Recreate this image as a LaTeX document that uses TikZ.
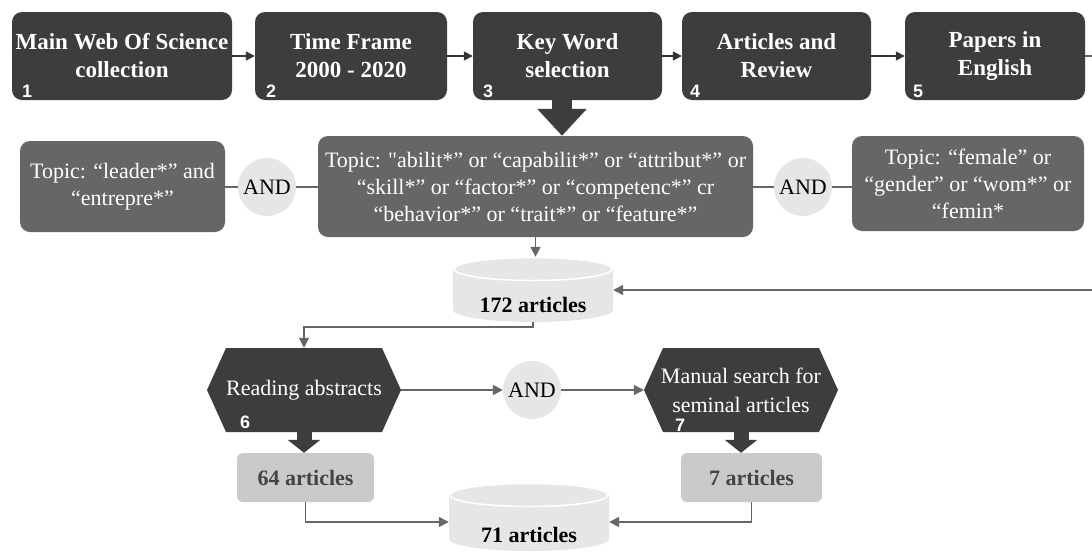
\documentclass[tikz,border=0pt]{standalone}
\usepackage{fontspec}
\setmainfont{Liberation Serif}
\newfontfamily\numfont{Liberation Sans}
\newfontfamily\plainqfont{Liberation Serif}
\usetikzlibrary{arrows.meta,calc}
\definecolor{darkbox}{HTML}{3D3D3D}
\definecolor{topicgray}{HTML}{666666}
\definecolor{lightfill}{HTML}{E6E6E6}
\definecolor{resfill}{HTML}{CACACA}
\definecolor{restext}{HTML}{444444}
\definecolor{linegray}{HTML}{666666}
\definecolor{arrowdark}{HTML}{333333}
\begin{document}
\begin{tikzpicture}[x=1pt,y=-1pt,
  every node/.style={font=\fontsize{22}{27}\selectfont},
  stepbox/.style={rectangle, rounded corners=10pt, fill=darkbox, text=white,
    font=\fontsize{23}{28}\selectfont\bfseries, align=center, inner sep=0pt,
    minimum height=88pt},
  numlabel/.style={text=white, font=\numfont\bfseries\fontsize{18}{18}\selectfont, anchor=base west, inner sep=0pt},
  topicbox/.style={rectangle, rounded corners=10pt, fill=topicgray, text=white, align=center, inner sep=0pt},
  andnode/.style={circle, fill=lightfill, minimum size=58pt, inner sep=0pt, text=black},
  resultbox/.style={rectangle, rounded corners=6pt, fill=resfill, text=restext,
    font=\fontsize{22}{27}\selectfont\bfseries, inner sep=0pt, minimum width=139pt, minimum height=49pt},
  hexstep/.style={rectangle, minimum width=194pt, minimum height=84pt, inner sep=0pt, text=white, align=center,
    path picture={\fill[darkbox] (path picture bounding box.west)
      -- ([xshift=19pt]path picture bounding box.north west)
      -- ([xshift=-19pt]path picture bounding box.north east)
      -- (path picture bounding box.east)
      -- ([xshift=-19pt]path picture bounding box.south east)
      -- ([xshift=19pt]path picture bounding box.south west) -- cycle;}},
  cylnode/.style={rectangle, inner sep=0pt, minimum width=160pt, minimum height=#1,
    path picture={
      \fill[lightfill] ([yshift=-12pt]path picture bounding box.north west)
        -- ([yshift=12pt]path picture bounding box.south west)
        arc[start angle=180, end angle=360, x radius=80pt, y radius=12pt]
        -- ([yshift=-12pt]path picture bounding box.north east)
        arc[start angle=0, end angle=180, x radius=80pt, y radius=12pt] -- cycle;
      \draw[white, line width=1.5pt, fill=lightfill] ([yshift=-12pt]path picture bounding box.north)
        ellipse[x radius=79pt, y radius=11.5pt];}},
  cyltext/.style={text=black, font=\fontsize{22}{27}\selectfont\bfseries, inner sep=0pt},
  topflow/.style={draw=arrowdark, line width=1.6pt, -{Triangle[length=9pt,width=9pt]}},
  flow/.style={draw=linegray, line width=1.6pt, -{Triangle[length=10pt,width=10pt]}},
  plainline/.style={draw=linegray, line width=1.6pt},
  bigblock/.style={draw=darkbox, line width=20pt, -{Triangle[length=27pt,width=48pt]}},
  smallblock/.style={draw=darkbox, line width=15pt, -{Triangle[length=13pt,width=32pt]}},
]
\useasboundingbox (0,0) rectangle (1092,552);
\fill[white] (0,0) rectangle (1092,552);

% top row
\node[stepbox, minimum width=220pt] (b1) at (122,56) {Main Web Of Science\\collection};
\node[stepbox, minimum width=192pt] (b2) at (351,56) {Time Frame\\2000 - 2020};
\node[stepbox, minimum width=189pt] (b3) at (567.5,56) {Key Word\\selection};
\node[stepbox, minimum width=189pt] (b4) at (776.5,56) {Articles and\\Review};
\node[stepbox, minimum width=180pt] (b5) at (995,56) {Papers in\\English};
\node[numlabel] (n1) at ($(b1.south west)+(10,-3)$) {1};
\node[numlabel] (n2) at ($(b2.south west)+(11,-3)$) {2};
\node[numlabel] (n3) at ($(b3.south west)+(10,-3)$) {3};
\node[numlabel] (n4) at ($(b4.south west)+(8,-3)$) {4};
\node[numlabel] (n5) at ($(b5.south west)+(8,-3)$) {5};
\draw[topflow] (b1) -- (b2);
\draw[topflow] (b2) -- (b3);
\draw[topflow] (b3) -- (b4);
\draw[topflow] (b4) -- (b5);
\coordinate (edgeR) at (1092,56);
\draw[plainline] (b5.east) -- (edgeR);

% topic row
\node[topicbox, minimum width=205pt, minimum height=91pt] (left) at (122.5,186.5) {Topic: “leader*” and\\“entrepre*”};
\node[topicbox, minimum width=435pt, minimum height=101pt] (mid) at (535.5,186.5)
  {Topic: {\plainqfont"}abilit*” or “capabilit*” or “attribut*” or\\“skill*” or “factor*” or “competenc*” cr\\“behavior*” or “trait*” or “feature*”};
\node[topicbox, minimum width=232pt, minimum height=95pt] (right) at (968,183.5) {Topic: “female” or\\“gender” or “wom*” or\\“femin*};
\node[andnode] (andl) at (267,187) {AND};
\node[andnode] (andr) at (803,187) {AND};
\draw[plainline] (left.east |- andl) -- (andl);
\draw[plainline] (andl) -- (andl -| mid.west);
\draw[plainline] (mid.east |- andr) -- (andr);
\draw[plainline] (andr) -- (andr -| right.west);
\draw[bigblock] ([xshift=-5.5pt]b3.south) -- ([xshift=-5.5pt]b3.south |- mid.north);

% 172 articles
\node[cylnode=65pt] (c172) at (533,289.5) {};
\node[cyltext] (t172) at ($(c172.center)+(0,15)$) {172 articles};
\draw[flow] (mid.south) -- (mid.south |- c172.north);
\coordinate (loopin) at (1092,290);
\draw[flow] (loopin) -- (c172.east |- loopin);

% screening row
\node[hexstep] (hex1) at (304,390) {Reading abstracts};
\node[hexstep] (hex2) at (741,390) {Manual search for\\[2pt]seminal articles};
\node[numlabel] (n6) at (240,428) {6};
\node[numlabel] (n7) at (675,431) {7};
\node[andnode] (andm) at (532,390) {AND};
\draw[flow] (c172.south) -- ++(0,5) -| (hex1.north);
\draw[flow] (hex1.east) -- (andm);
\draw[flow] (andm) -- (hex2.west);

% results
\node[resultbox, minimum width=137pt] (r64) at (305.5,477.5) {64 articles};
\node[resultbox, minimum width=141pt] (r7) at (751.5,477.5) {7 articles};
\draw[smallblock] (hex1.south) -- (hex1.south |- r64.north);
\draw[smallblock] (hex2.south) -- (hex2.south |- r7.north);

\node[cylnode=68pt] (c71) at (529,517) {};
\node[cyltext] (t71) at ($(c71.center)+(0,18)$) {71 articles};
\draw[flow] (r64.south) |- ([yshift=-5pt]c71.west);
\draw[flow] (r7.south) |- ([yshift=-5pt]c71.east);
\end{tikzpicture}
\end{document}
